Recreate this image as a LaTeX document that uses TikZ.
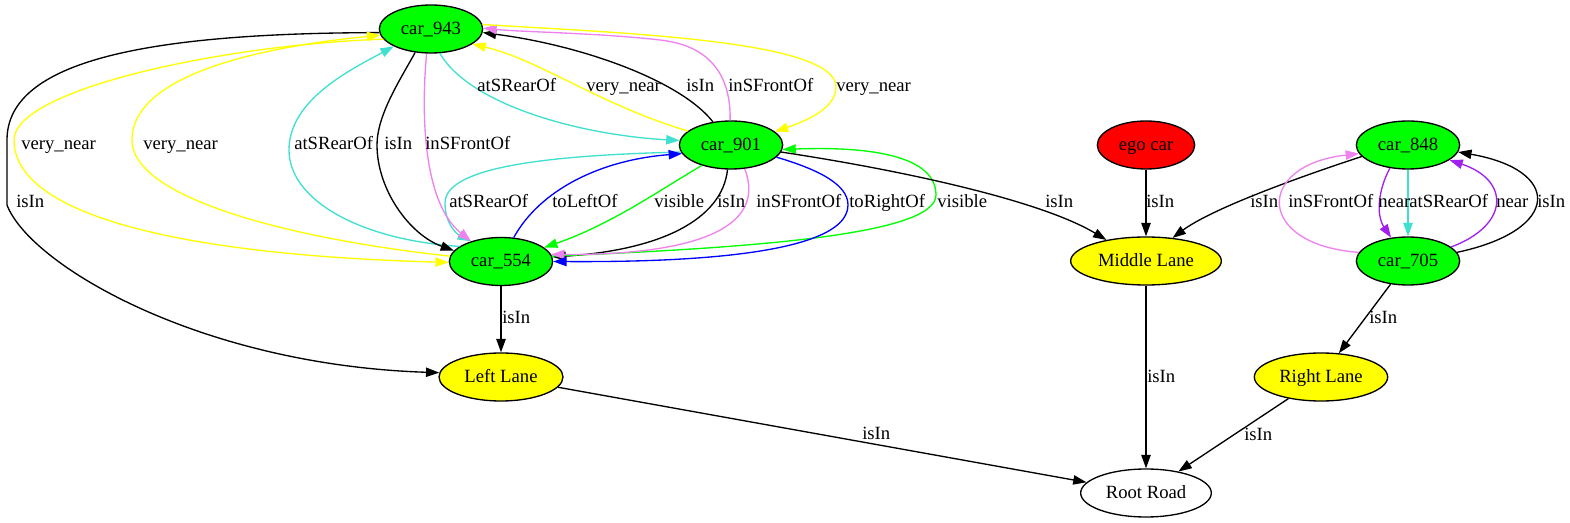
\documentclass[tikz,border=0pt]{standalone}
\usepackage{fontspec}
\setmainfont{Liberation Serif}
\usetikzlibrary{shapes.geometric,arrows.meta}
\definecolor{vgreen}{RGB}{0,255,0}
\definecolor{vyellow}{RGB}{255,255,0}
\definecolor{vred}{RGB}{255,0,0}
\definecolor{turq}{RGB}{64,224,208}
\definecolor{viol}{RGB}{238,130,238}
\definecolor{purp}{RGB}{160,32,240}
\definecolor{vblue}{RGB}{0,0,255}
\tikzset{
  gvnode/.style={ellipse, draw=black, line width=1pt, inner sep=0pt, minimum height=36pt,
    text height=11pt, text depth=2.8pt, font=\fontsize{14pt}{16pt}\selectfont},
  carnode/.style={gvnode, fill=vgreen, minimum width=77.5pt},
  lanenode/.style={gvnode, fill=vyellow},
  edge/.style={line width=1pt, -{Triangle[length=10pt,width=7pt]}},
  lbl/.style={anchor=base west, inner sep=0pt, yshift=-4.1pt, font=\fontsize{14pt}{16pt}\selectfont}
}
\begin{document}
\begin{tikzpicture}[x=0.75pt, y=-0.75pt]
\useasboundingbox (0,0) rectangle (1570,523);
% nodes
\node[carnode] (c943) at (431,29) {car\_943};
\node[carnode] (c901) at (731,145) {car\_901};
\node[carnode] (c554) at (501,261.5) {car\_554};
\node[gvnode, fill=vred, minimum width=73pt] (ego) at (1146,145) {ego car};
\node[carnode] (c848) at (1408,145) {car\_848};
\node[lanenode, minimum width=113pt] (mid) at (1146,261) {Middle Lane};
\node[carnode] (c705) at (1408,261) {car\_705};
\node[lanenode, minimum width=93pt] (left) at (501,377) {Left Lane};
\node[lanenode, minimum width=100pt] (right) at (1321,377) {Right Lane};
\node[gvnode, minimum width=98pt] (root) at (1146,493) {Root Road};

% left group: car_943 <-> car_554
\draw[edge] (c943.184) .. controls (150,33) and (7,60) .. (7,140) -- (7,205) .. controls (30,265) and (200,365) .. (left.176);
\draw[edge, vyellow] (c943.192) .. controls (220,45) and (14,90) .. (14,140) .. controls (14,215) and (180,255) .. (c554.181);
\draw[edge, vyellow] (c554.174) .. controls (300,240) and (132,200) .. (132,140) .. controls (132,70) and (280,45) .. (c943.187);
\draw[edge, turq] (c554.160) .. controls (360,240) and (289,200) .. (289,150) .. controls (289,100) and (350,70) .. (c943.205);
\draw[edge] (c943.236) .. controls (400,80) and (377,115) .. (377,145) .. controls (377,190) and (410,235) .. (c554.167);
\draw[edge, turq] (c901.188) .. controls (560,155) and (445,165) .. (445,203) .. controls (445,222) and (455,233) .. (c554.146);
\draw[edge, viol] (c943.260) .. controls (422,100) and (420,200) .. (c554.146);

% car_943 <-> car_901
\draw[edge, turq] (c943.290) .. controls (470,105) and (580,135) .. (c901.175);
\draw[edge, vyellow] (c901.162) .. controls (600,105) and (540,60) .. (c943.340);
\draw[edge] (c901.128) .. controls (680,80) and (580,45) .. (c943.356);
\draw[edge, viol] (c901.92) .. controls (731,70) and (705,45) .. (660,40) .. controls (600,33) and (520,32) .. (c943.1);
\draw[edge, vyellow] (c943.5) .. controls (620,33) and (836,40) .. (836,87) .. controls (836,105) and (815,118) .. (c901.17);

% car_901 <-> car_554
\draw[edge, vblue] (c554.62) .. controls (540,190) and (600,160) .. (c901.190);
\draw[edge, vgreen] (c901.215) .. controls (660,190) and (610,225) .. (c554.18);
\draw[edge] (c901.262) .. controls (722,220) and (660,250) .. (c554.5);
\draw[edge, vgreen] (c554.6) .. controls (750,248) and (936,235) .. (936,195) .. controls (936,150) and (850,147) .. (c901.355);
\draw[edge, viol] (c901.300) .. controls (768,230) and (690,255) .. (c554.8);
\draw[edge, vblue] (c901.345) .. controls (820,170) and (848,185) .. (848,205) .. controls (848,260) and (650,262) .. (c554.0);

% lanes
\draw[edge] (c901.352) .. controls (900,170) and (1040,200) .. (mid.152);
\draw[edge] (ego) -- (mid);
\draw[edge] (c848.194) .. controls (1290,180) and (1210,210) .. (mid.41);
\draw[edge] (c554) -- (left);
\draw[edge] (mid) -- (root);
\draw[edge] (left) -- (root);
\draw[edge] (right) -- (root);
\draw[edge] (c705) -- (right);

% right group: car_848 <-> car_705
\draw[edge, viol] (c705.170) .. controls (1255,245) and (1255,165) .. (c848.190);
\draw[edge, purp] (c848.232) .. controls (1378,190) and (1376,215) .. (c705.126);
\draw[edge, turq] (c848) -- (c705);
\draw[edge, purp] (c705.18) .. controls (1510,225) and (1510,180) .. (c848.340);
\draw[edge] (c705.10) .. controls (1562,230) and (1562,170) .. (c848.352);

% labels
\node[lbl] at (21,144) {very\_near};
\node[lbl] at (143,144) {very\_near};
\node[lbl] at (294,144) {atSRearOf};
\node[lbl] at (384,144) {isIn};
\node[lbl] at (425,144) {inSFrontOf};
\node[lbl] at (16,202) {isIn};
\node[lbl] at (477,86) {atSRearOf};
\node[lbl] at (586,86) {very\_near};
\node[lbl] at (686,86) {isIn};
\node[lbl] at (728,86) {inSFrontOf};
\node[lbl] at (836,86) {very\_near};
\node[lbl] at (449,202) {atSRearOf};
\node[lbl] at (552,202) {toLeftOf};
\node[lbl] at (654,202) {visible};
\node[lbl] at (717,202) {isIn};
\node[lbl] at (756,202) {inSFrontOf};
\node[lbl] at (849,202) {toRightOf};
\node[lbl] at (937,202) {visible};
\node[lbl] at (1045,202) {isIn};
\node[lbl] at (1146,202) {isIn};
\node[lbl] at (1250,202) {isIn};
\node[lbl] at (1288,202) {inSFrontOf};
\node[lbl] at (1378,202) {near};
\node[lbl] at (1409,202) {atSRearOf};
\node[lbl] at (1496,202) {near};
\node[lbl] at (1537,202) {isIn};
\node[lbl] at (1369,318) {isIn};
\node[lbl] at (502,318) {isIn};
\node[lbl] at (1147,377) {isIn};
\node[lbl] at (862,434) {isIn};
\node[lbl] at (1244,435) {isIn};
\end{tikzpicture}
\end{document}
